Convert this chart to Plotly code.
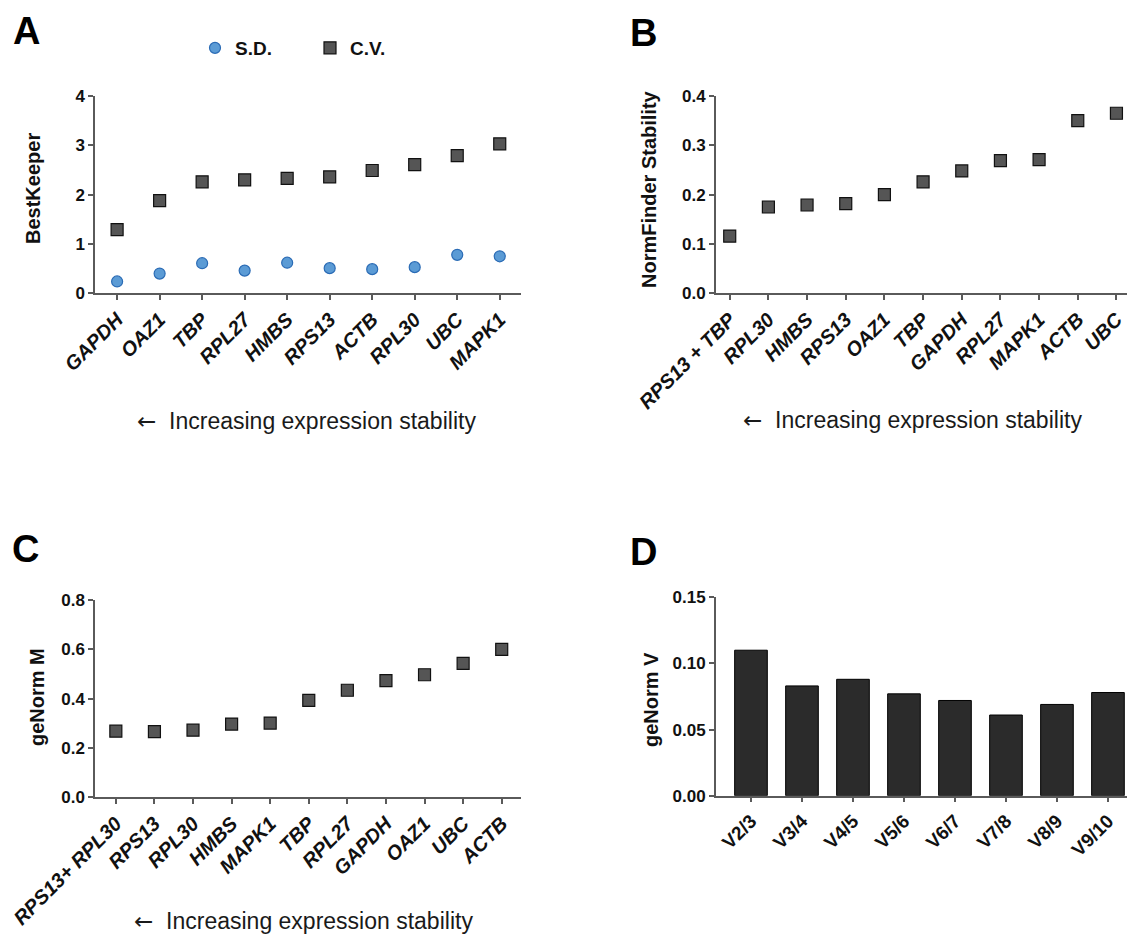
import plotly.graph_objects as go

# The page adds an 8 px body margin, so the figure is sized to fit the window
OFF = 8
W, H = 1135 - OFF, 938 - OFF

# ---------------- data ----------------
a_genes = ["GAPDH", "OAZ1", "TBP", "RPL27", "HMBS", "RPS13", "ACTB", "RPL30", "UBC", "MAPK1"]
a_sd = [0.24, 0.40, 0.61, 0.46, 0.62, 0.51, 0.49, 0.53, 0.78, 0.75]
a_cv = [1.29, 1.88, 2.26, 2.30, 2.33, 2.36, 2.49, 2.61, 2.79, 3.03]

b_genes = ["RPS13 + TBP", "RPL30", "HMBS", "RPS13", "OAZ1", "TBP", "GAPDH", "RPL27", "MAPK1", "ACTB", "UBC"]
b_vals = [0.116, 0.175, 0.179, 0.182, 0.200, 0.226, 0.248, 0.269, 0.271, 0.350, 0.365]

c_genes = ["RPS13+ RPL30", "RPS13", "RPL30", "HMBS", "MAPK1", "TBP", "RPL27", "GAPDH", "OAZ1", "UBC", "ACTB"]
c_vals = [0.268, 0.266, 0.272, 0.297, 0.301, 0.393, 0.434, 0.473, 0.497, 0.543, 0.600]

d_pairs = ["V2/3", "V3/4", "V4/5", "V5/6", "V6/7", "V7/8", "V8/9", "V9/10"]
d_vals = [0.110, 0.083, 0.088, 0.077, 0.072, 0.061, 0.069, 0.078]

FONT = "Arial, Liberation Sans, sans-serif"
AX = "#5a5a5a"
SQ_FILL = "#555555"
CIRC_FILL = "#5b9bd5"
CIRC_LINE = "#2a6bb5"


def px(x):
    return (x - OFF) / W


def py(y):
    return 1 - (y - OFF) / H


def it(labels):
    return ["<b><i>%s</i></b>" % s for s in labels]


def bold(labels):
    return ["<b>%s</b>" % s for s in labels]


fig = go.Figure()

sq_marker = dict(symbol="square", size=12, color=SQ_FILL, line=dict(color="#111111", width=1.2))
ci_marker = dict(symbol="circle", size=11, color=CIRC_FILL, line=dict(color=CIRC_LINE, width=1.2))

# Panel A
fig.add_trace(go.Scatter(x=list(range(len(a_genes))), y=a_sd, mode="markers", name="<b>S.D.</b>",
                         marker=ci_marker, xaxis="x", yaxis="y", cliponaxis=False))
fig.add_trace(go.Scatter(x=list(range(len(a_genes))), y=a_cv, mode="markers", name="<b>C.V.</b>",
                         marker=sq_marker, xaxis="x", yaxis="y", cliponaxis=False))
# Panel B
fig.add_trace(go.Scatter(x=list(range(len(b_genes))), y=b_vals, mode="markers", showlegend=False,
                         marker=sq_marker, xaxis="x2", yaxis="y2", cliponaxis=False))
# Panel C
fig.add_trace(go.Scatter(x=list(range(len(c_genes))), y=c_vals, mode="markers", showlegend=False,
                         marker=sq_marker, xaxis="x3", yaxis="y3", cliponaxis=False))
# Panel D
fig.add_trace(go.Bar(x=list(range(len(d_pairs))), y=d_vals, width=0.64, showlegend=False,
                     marker=dict(color="#2b2b2b", line=dict(color="#000000", width=1)),
                     xaxis="x4", yaxis="y4"))

xa_common = dict(showline=True, linecolor=AX, linewidth=1.5, ticks="outside", ticklen=5,
                 tickwidth=1.5, tickcolor=AX, showgrid=False, zeroline=False, tickangle=-45,
                 automargin=False,
                 tickfont=dict(family=FONT, size=20, color="#111111"), tickmode="array")
ya_common = dict(showline=True, linecolor=AX, linewidth=1.5, ticks="outside", ticklen=5,
                 tickwidth=1.5, tickcolor=AX, showgrid=False, zeroline=False, automargin=False,
                 tickfont=dict(family=FONT, size=17, color="#111111", weight="bold"))

dom_left = [px(95), px(521)]
dom_right = [px(715.8), 1.0]

fig.update_layout(
    width=W, height=H,
    margin=dict(l=0, r=0, t=0, b=0, autoexpand=False),
    paper_bgcolor="white", plot_bgcolor="white",
    font=dict(family=FONT, color="#111111"),
    xaxis=dict(xa_common, domain=dom_left, range=[-0.52, 9.5],
               tickvals=list(range(len(a_genes))), ticktext=it(a_genes), anchor="y"),
    yaxis=dict(ya_common, domain=[py(293.3), py(96)], range=[0, 4], dtick=1, anchor="x"),
    xaxis2=dict(xa_common, domain=dom_right, range=[-0.36, 10.48],
                tickvals=list(range(len(b_genes))), ticktext=it(b_genes), anchor="y2"),
    yaxis2=dict(ya_common, domain=[py(293.3), py(96)], range=[0, 0.4], dtick=0.1,
                tickformat=".1f", anchor="x2"),
    xaxis3=dict(xa_common, domain=dom_left, range=[-0.54, 10.5],
                tickvals=list(range(len(c_genes))), ticktext=it(c_genes), anchor="y3"),
    yaxis3=dict(ya_common, domain=[py(797.3), py(600)], range=[0, 0.8], dtick=0.2,
                tickformat=".1f", anchor="x3"),
    xaxis4=dict(xa_common, domain=dom_right, range=[-0.69, 7.53],
                tickvals=list(range(len(d_pairs))), ticktext=bold(d_pairs), anchor="y4",
                tickfont=dict(family=FONT, size=19, color="#111111")),
    yaxis4=dict(ya_common, domain=[py(795.7), py(597.3)], range=[0, 0.15], dtick=0.05,
                tickformat=".2f", anchor="x4"),
    legend=dict(orientation="h", x=px(195), y=py(48), xanchor="left", yanchor="middle",
                font=dict(family=FONT, size=19, color="#111111"),
                entrywidth=70, entrywidthmode="pixels", bgcolor="rgba(0,0,0,0)"),
    showlegend=True,
)

ann = []
# panel letters
for letter, x, y in [("A", 26, 31), ("B", 643, 33), ("C", 25, 549), ("D", 643, 552)]:
    ann.append(dict(text="<b>%s</b>" % letter, x=px(x), y=py(y), xref="paper", yref="paper",
                    xanchor="center", yanchor="middle", showarrow=False,
                    font=dict(family=FONT, size=38, color="#000000")))
# axis titles
for t, x, y in [("BestKeeper", 33, 189), ("NormFinder Stability", 649, 189),
                ("geNorm M", 37, 697), ("geNorm V", 651, 700)]:
    ann.append(dict(text="<b>%s</b>" % t, x=px(x), y=py(y), xref="paper", yref="paper",
                    xanchor="center", yanchor="middle", textangle=-90, showarrow=False,
                    font=dict(family=FONT, size=20, color="#111111")))
# stability notes
note = '<span style="font-family:DejaVu Sans">\u2190</span>  Increasing expression stability'
for x, y in [(306, 421), (913, 420), (303, 921)]:
    ann.append(dict(text=note, x=px(x), y=py(y),
                    xref="paper", yref="paper", xanchor="center", yanchor="middle",
                    showarrow=False, font=dict(family=FONT, size=23, color="#1a1a1a")))
fig.update_layout(annotations=ann)

fig.write_html("out.html")
